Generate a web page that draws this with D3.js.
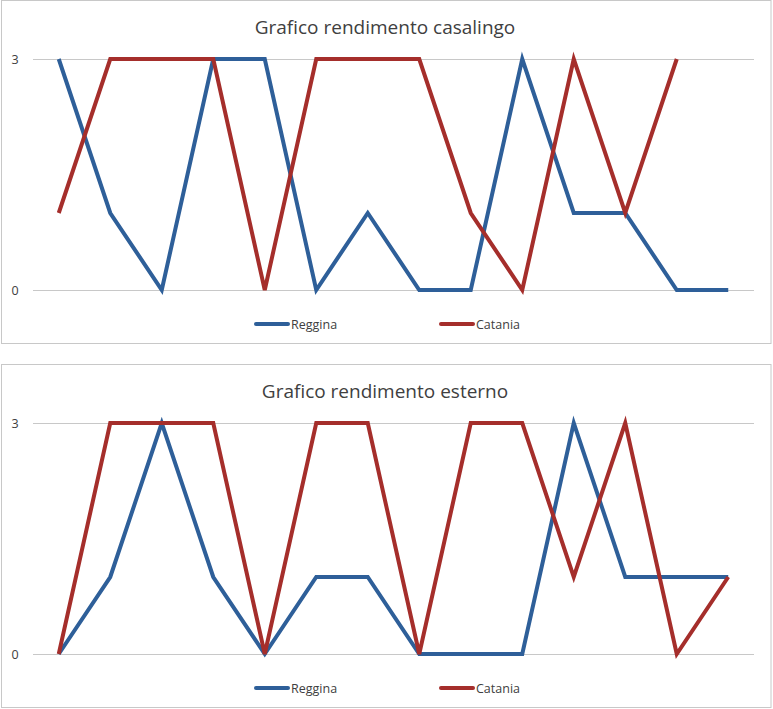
<!DOCTYPE html>
<html>
<head>
<meta charset="utf-8">
<script src="https://cdn.jsdelivr.net/npm/d3@7"></script>
<style>
  body { margin: 0; background: #fff; }
  svg { display: block; }
</style>
</head>
<body>
<svg id="chart" width="773" height="709"></svg>
<script>
const matches = d3.range(1, 15);
const seriesNames = ["Reggina", "Catania"];
const colors = ["#2E5F99", "#A52E2B"];
const yTicks = [0, 3];

const homeTitle = "Grafico rendimento casalingo";
const homeReggina = [3, 1, 0, 3, 3, 0, 1, 0, 0, 3, 1, 1, 0, 0];
const homeCatania = [1, 3, 3, 3, 0, 3, 3, 3, 1, 0, 3, 1, 3, null];

const awayTitle = "Grafico rendimento esterno";
const awayReggina = [0, 1, 3, 1, 0, 1, 1, 0, 0, 0, 3, 1, 1, 1];
const awayCatania = [0, 3, 3, 3, 0, 3, 3, 0, 3, 3, 1, 3, 0, 1];

const svg = d3.select("#chart");
const font = "'Open Sans', 'Noto Sans', sans-serif";

function panel(top, title, values) {
  const g = svg.append("g").attr("transform", `translate(0,${top})`);
  g.append("rect").attr("x", 1.5).attr("y", 0.5).attr("width", 769.5).attr("height", 343)
    .attr("fill", "#fff").attr("stroke", "#c8c8c8").attr("stroke-width", 1);

  g.append("text").attr("x", 385).attr("y", 34).attr("text-anchor", "middle")
    .attr("font-family", font).attr("font-size", 19).attr("fill", "#404040")
    .text(title);

  const x = d3.scaleBand().domain(matches).range([33, 754]);
  const y = d3.scaleLinear().domain([0, 3]).range([290, 59]);

  const grid = g.append("g");
  yTicks.forEach(t => {
    grid.append("line").attr("x1", 33).attr("x2", 754)
      .attr("y1", Math.round(y(t)) + 0.5).attr("y2", Math.round(y(t)) + 0.5)
      .attr("stroke", "#c8c8c8").attr("stroke-width", 1);
    grid.append("text").attr("x", 15).attr("y", y(t) + 5).attr("text-anchor", "middle")
      .attr("font-family", font).attr("font-size", 12.5).attr("fill", "#404040").text(t);
  });

  const line = d3.line()
    .defined(d => d != null)
    .x((d, i) => x(matches[i]) + x.bandwidth() / 2)
    .y(d => y(d));

  values.forEach((vals, k) => {
    g.append("path").datum(vals).attr("d", line).attr("fill", "none")
      .attr("stroke", colors[k]).attr("stroke-width", 4)
      .attr("stroke-linejoin", "miter").attr("stroke-linecap", "butt");
  });

  const legX = [256, 441];
  seriesNames.forEach((n, k) => {
    g.append("line").attr("x1", legX[k]).attr("x2", legX[k] + 32)
      .attr("y1", 324).attr("y2", 324).attr("stroke", colors[k]).attr("stroke-width", 4)
      .attr("stroke-linecap", "round");
    g.append("text").attr("x", legX[k] + 35).attr("y", 328.5)
      .attr("font-family", font).attr("font-size", 12.5).attr("fill", "#404040").text(n);
  });
}

panel(0, homeTitle, [homeReggina, homeCatania]);
panel(364, awayTitle, [awayReggina, awayCatania]);
</script>
</body>
</html>
